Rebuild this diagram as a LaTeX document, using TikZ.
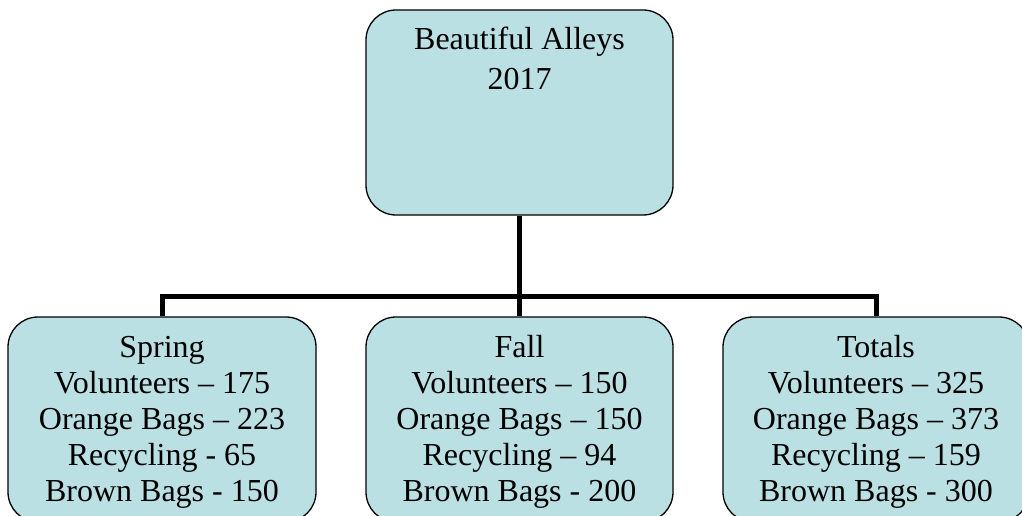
\documentclass[tikz,border=0pt]{standalone}
\usepackage{fontspec}
\setmainfont{Liberation Serif}
\definecolor{boxfill}{RGB}{187,224,227}
\begin{document}
\begin{tikzpicture}[x=1pt,y=-1pt,
  orgbox/.style={draw=black, line width=1.3pt, fill=boxfill, rounded corners=30pt, inner sep=0pt},
  txt/.style={align=center, font=\fontsize{32}{36.1}\selectfont, inner sep=0pt},
  conn/.style={draw=black, line width=5pt, line join=miter}]
\useasboundingbox (0,0) rectangle (1022,516);
\clip (0,0) rectangle (1022,516);
\node[orgbox, minimum width=307pt, minimum height=205pt] (top) at (519.5,112.5) {};
\node[orgbox, minimum width=308pt, minimum height=205pt] (spring) at (162,419.5) {};
\node[orgbox, minimum width=307pt, minimum height=205pt] (fall) at (519.5,419.5) {};
\node[orgbox, minimum width=306pt, minimum height=205pt] (totals) at (876,419.5) {};
\coordinate (bus) at (0,296);
\draw[conn] (top.south) -- (fall.north);
\draw[conn] (spring.north) -- (spring.north |- bus) -- (totals.north |- bus) -- (totals.north);
\node[txt, anchor=base, font=\fontsize{32}{39.3}\selectfont] (toptxt) at (519.5,89.3) {Beautiful Alleys\\2017};
\node[txt, anchor=base] (springtxt) at (162,501.7) {Spring\\Volunteers – 175\\Orange Bags – 223\\Recycling - 65\\Brown Bags - 150};
\node[txt, anchor=base] (falltxt) at (519.5,501.7) {Fall\\Volunteers – 150\\Orange Bags – 150\\Recycling – 94\\Brown Bags - 200};
\node[txt, anchor=base] (totalstxt) at (876,501.7) {Totals\\Volunteers – 325\\Orange Bags – 373\\Recycling – 159\\Brown Bags - 300};
\end{tikzpicture}
\end{document}
